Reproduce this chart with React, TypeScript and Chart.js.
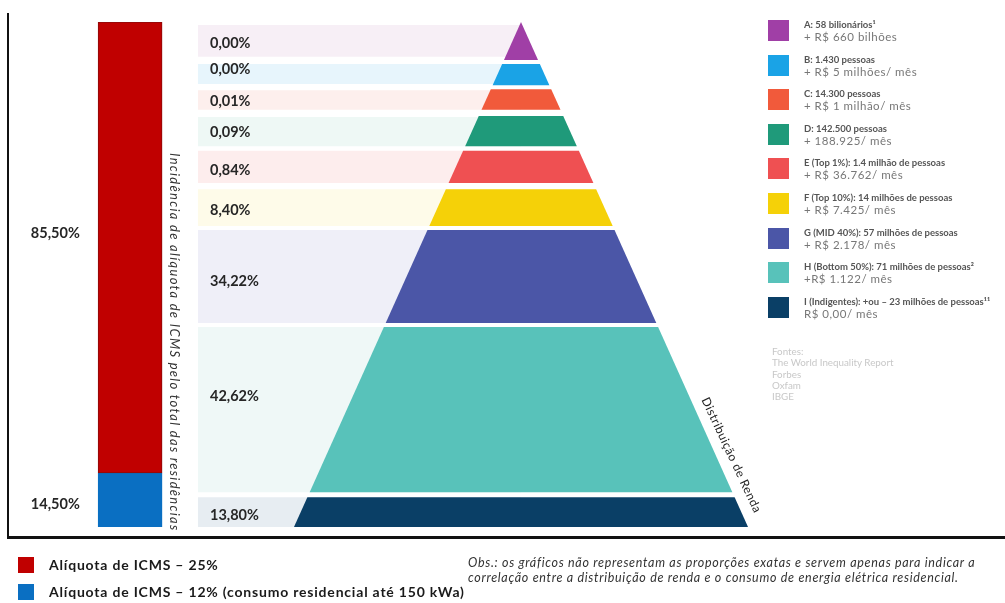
import React, { useEffect, useRef } from "react";
import { Chart, registerables } from "chart.js";

Chart.register(...registerables);

// ---------- data ----------
const layerNames = ["A", "B", "C", "D", "E", "F", "G", "H", "I"];
const layerShares = ["0,00%", "0,00%", "0,01%", "0,09%", "0,84%", "8,40%", "34,22%", "42,62%", "13,80%"];
// vertical extent of each pyramid layer (0 = base, 100 = apex)
const layerTop = [100, 91.7, 86.7, 81.4, 74.5, 66.9, 58.8, 39.6, 5.9];
const layerBottom = [92.5, 87.5, 82.6, 75.4, 68.1, 59.6, 40.4, 6.9, 0];
// tinted bands behind the share labels
const bandTop = [99.4, 91.7, 86.5, 81.2, 74.5, 66.9, 58.8, 39.6, 5.9];
const bandBottom = [93.1, 87.7, 82.6, 75.4, 68.1, 59.6, 40.4, 6.9, 0];
const labelLevel = [95.8, 90.7, 84.2, 78.2, 70.7, 62.8, 48.7, 25.9, 2.4];

const legendHeads = [
  "A: 58 bilionários¹",
  "B: 1.430 pessoas",
  "C: 14.300 pessoas",
  "D: 142.500 pessoas",
  "E (Top 1%): 1.4 milhão de pessoas",
  "F (Top 10%): 14 milhões de pessoas",
  "G (MID 40%): 57 milhões de pessoas",
  "H (Bottom 50%): 71 milhões de pessoas²",
  "I (Indigentes): +ou – 23 milhões de pessoas¹¹",
];
const legendSubs = [
  "+ R$ 660 bilhões",
  "+ R$ 5 milhões/ mês",
  "+ R$ 1 milhão/ mês",
  "+ 188.925/ mês",
  "+ R$ 36.762/ mês",
  "+ R$ 7.425/ mês",
  "+ R$ 2.178/ mês",
  "+R$ 1.122/ mês",
  "R$ 0,00/ mês",
];
const sources = ["Fontes:", "The World Inequality Report", "Forbes", "Oxfam", "IBGE"];

const icmsLabels = [
  "Alíquota de ICMS – 25%",
  "Alíquota de ICMS – 12% (consumo residencial até 150 kWa)",
];
const icmsShares = ["85,50%", "14,50%"];
const icmsRanges: [number, number][] = [
  [10.7, 100],
  [0, 10.7],
];
const icmsLabelLevel = [58.2, 4.4];

// ---------- styles / layout ----------
const layerColors = ["#a03fa6", "#1aa3e6", "#f15a3b", "#1f9a7a", "#ef5052", "#f5d108", "#4b56a7", "#58c2ba", "#0a3f66"];
const bandColors = ["#f7eff6", "#e7f5fc", "#fdefed", "#eef8f5", "#fdeded", "#fefbe9", "#efeff8", "#eff8f7", "#e7edf2"];
const icmsColors = ["#c00000", "#0a6fc2"];
const icmsBorders = ["#8c0a0a", "#0a6fc2"];

const X_MIN = -2.295;
const X_MAX = 2.132;
const BAND_LEFT = -1.423;
const BAR_X = -1.722;
const LABEL_X = -1.37;
const ICMS_LABEL_X = -2.159;
const BASE_HALF = 1;

const halfWidth = (u: number) => (BASE_HALF * (100 - u)) / 100;

const polygon = (pts: [number, number][]) => {
  const p = pts.map(([x, y]) => ({ x, y }));
  p.push({ ...p[0] });
  return p;
};

const labelPlugin = {
  id: "shareLabels",
  afterDatasetsDraw(chart: any) {
    const { ctx } = chart;
    const x = chart.scales.x;
    const y = chart.scales.y;
    ctx.save();
    ctx.font = "bold 14.5px Lato, sans-serif";
    ctx.fillStyle = "#262626";
    ctx.textBaseline = "middle";
    ctx.textAlign = "left";
    layerShares.forEach((t, i) => {
      ctx.fillText(t, x.getPixelForValue(LABEL_X), y.getPixelForValue(labelLevel[i]));
    });
    icmsShares.forEach((t, i) => {
      ctx.fillText(t, x.getPixelForValue(ICMS_LABEL_X), y.getPixelForValue(icmsLabelLevel[i]));
    });
    ctx.restore();
  },
};

export default function App() {
  const ref = useRef<HTMLCanvasElement>(null);

  useEffect(() => {
    if (!ref.current) return;
    const bandSets = layerNames.map((n, i) => ({
      type: "line" as const,
      label: "band " + n,
      data: polygon([
        [BAND_LEFT, bandTop[i]],
        [0, bandTop[i]],
        [0, bandBottom[i]],
        [BAND_LEFT, bandBottom[i]],
      ]),
      backgroundColor: bandColors[i],
      borderColor: "rgba(0,0,0,0)",
      borderWidth: 0,
      pointRadius: 0,
      fill: "shape",
      order: 3,
    }));
    const layerSets = layerNames.map((n, i) => ({
      type: "line" as const,
      label: n,
      data: polygon([
        [-halfWidth(layerTop[i]), layerTop[i]],
        [halfWidth(layerTop[i]), layerTop[i]],
        [halfWidth(layerBottom[i]), layerBottom[i]],
        [-halfWidth(layerBottom[i]), layerBottom[i]],
      ]),
      backgroundColor: layerColors[i],
      borderColor: "rgba(0,0,0,0)",
      borderWidth: 0,
      pointRadius: 0,
      fill: "shape",
      order: 1,
    }));
    const barSets = icmsLabels.map((l, i) => ({
      type: "bar" as const,
      label: l,
      data: [{ x: BAR_X, y: icmsRanges[i] }],
      backgroundColor: icmsColors[i],
      borderColor: icmsBorders[i],
      borderWidth: 1,
      borderSkipped: false,
      barThickness: 64,
      grouped: false,
      order: 2,
    }));

    const chart = new Chart(ref.current, {
      type: "line",
      data: { datasets: [...layerSets, ...barSets, ...bandSets] as any },
      options: {
        animation: false,
        responsive: false,
        devicePixelRatio: 1,
        events: [],
        layout: { padding: { top: 22, bottom: 76, left: 0, right: 0 } },
        plugins: {
          legend: { display: false },
          tooltip: { enabled: false },
          title: { display: false },
        },
        elements: { line: { tension: 0 }, point: { radius: 0 } },
        scales: {
          x: { type: "linear", min: X_MIN, max: X_MAX, display: false, offset: false },
          y: { type: "linear", min: 0, max: 100, display: false },
        },
      } as any,
      plugins: [labelPlugin],
    });
    return () => chart.destroy();
  }, []);

  const abs = (s: React.CSSProperties): React.CSSProperties => ({ position: "absolute", whiteSpace: "nowrap", ...s });

  return (
    <div
      style={{
        position: "fixed",
        left: 0,
        top: 0,
        width: 1005,
        height: 603,
        background: "#fff",
        overflow: "hidden",
        fontFamily: "Lato, 'Open Sans', sans-serif",
      }}
    >
      <canvas ref={ref} width={1005} height={603} style={{ position: "absolute", left: 0, top: 0, width: 1005, height: 603 }} />

      {/* frame */}
      <div style={abs({ left: 7, top: 13, width: 2, height: 525, background: "#111" })} />
      <div style={abs({ left: 7, top: 536, width: 998, height: 3, background: "#111" })} />

      {/* rotated axis-like labels */}
      <div style={abs({ left: 0, top: 0, width: 1005, height: 535, overflow: "hidden" })}>
        <div
          style={abs({
            left: 182,
            top: 153,
            transformOrigin: "left top",
            transform: "rotate(90deg)",
            fontSize: 13,
            letterSpacing: "1.3px",
            lineHeight: "14px",
            fontStyle: "italic",
            color: "#333",
          })}
        >
          Incidência de alíquota de ICMS pelo total das residências
        </div>
      </div>
      <div
        style={abs({
          left: 732,
          top: 455,
          transform: "translate(-50%, -50%) rotate(65deg)",
          fontSize: 12,
          letterSpacing: "0.5px",
          lineHeight: "13px",
          color: "#222",
        })}
      >
        Distribuição de Renda
      </div>

      {/* right legend */}
      {layerNames.map((n, i) => {
        const top = 20 + i * 34.6;
        return (
          <React.Fragment key={n}>
            <div style={abs({ left: 768, top, width: 21, height: 21, background: layerColors[i] })} />
            <div style={abs({ left: 804, top: top - 1, fontSize: 9.5, lineHeight: "12px", color: "#555", fontWeight: 700 })}>
              {legendHeads[i]}
            </div>
            <div style={abs({ left: 804, top: top + 10, fontSize: 11.5, letterSpacing: "0.5px", lineHeight: "14px", color: "#777" })}>
              {legendSubs[i]}
            </div>
          </React.Fragment>
        );
      })}
      {sources.map((s, i) => (
        <div key={s} style={abs({ left: 772, top: 346 + i * 11.3, fontSize: 9.8, lineHeight: "11px", color: "#c8c8c8" })}>
          {s}
        </div>
      ))}

      {/* bottom legend */}
      {icmsLabels.map((l, i) => (
        <React.Fragment key={l}>
          <div style={abs({ left: 18, top: 557 + i * 27, width: 16, height: 16, background: icmsColors[i] })} />
          <div
            style={abs({
              left: 49,
              top: 557 + i * 27,
              fontSize: 14,
              letterSpacing: "0.8px",
              lineHeight: "16px",
              fontWeight: 700,
              color: "#1a1a1a",
            })}
          >
            {l}
          </div>
        </React.Fragment>
      ))}

      {/* note */}
      <div
        style={abs({
          left: 468,
          top: 555,
          fontSize: 12.5,
          letterSpacing: "0.7px",
          lineHeight: "15px",
          fontStyle: "italic",
          color: "#333",
        })}
      >
        Obs.: os gráficos não representam as proporções exatas e servem apenas para indicar a
        <br />
        correlação entre a distribuição de renda e o consumo de energia elétrica residencial.
      </div>
    </div>
  );
}
